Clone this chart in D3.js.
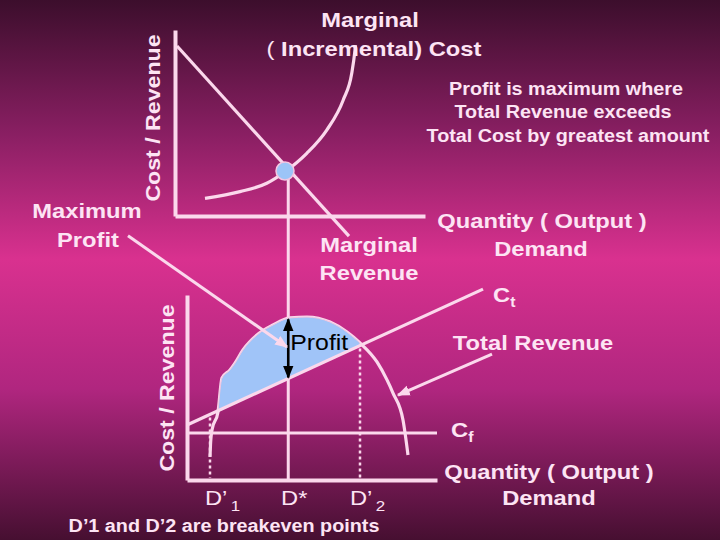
<!DOCTYPE html>
<html><head><meta charset="utf-8">
<script src="https://cdn.jsdelivr.net/npm/d3@7"></script>
<style>html,body{margin:0;padding:0;background:#000;}svg{display:block;}</style>
</head><body>
<script>
// ---- data (abstract units) ----
// Top panel: marginal cost & marginal revenue
const mcQ = [12, 26, 36.7, 44, 52.7, 60.7, 67.3, 70.7, 72, 72.2];
const mcV = [9.5, 13.1, 17.6, 23.8, 33.7, 46.2, 62.4, 76.7, 89.2, 91.9];
const mrQ = [0.8, 69.6];
const mrV = [91.4, -10.8];
const optimumQ = 44;
const optimumV = 24.2;
// Bottom panel: total revenue, total cost, fixed cost
const trQ = [9.2, 9.4, 10, 12.4, 14, 17.2, 19.2, 22.4, 28, 34.4, 41.2, 48, 57.2, 64, 69.2, 76, 80, 82.4, 86.4, 88.4];
const trV = [12.4, 18.9, 27, 36.8, 55.1, 59.5, 63.2, 70.3, 78.4, 83.8, 87.6, 88.1, 85.4, 80, 74.1, 63.8, 54.1, 47, 32.4, 13.5];
const ctQ = [0, 118.4];
const ctV = [29.7, 103.2];
const cfQ = [0, 100];
const cfV = [25.4, 25.4];
const breakevenQ = [9.2, 69.2];
const breakevenLabels = ["1", "2"];
const dStarQ = 40.5;
const profitTopV = 87.4;

const W = 720, H = 540;
const svg = d3.select("body").append("svg").attr("width", W).attr("height", H);

// background gradient
const defs = svg.append("defs");
const grad = defs.append("linearGradient").attr("id", "bg").attr("x1", 0).attr("y1", 0).attr("x2", 0).attr("y2", 1);
[[0, "#3c0e2c"], [0.25, "#8a1f63"], [0.48, "#d9318f"], [0.72, "#b0267f"], [1, "#460f31"]].forEach(s =>
  grad.append("stop").attr("offset", s[0]).attr("stop-color", s[1]));
svg.append("rect").attr("width", W).attr("height", H).attr("fill", "url(#bg)");

const LINE = "#fbd8ec";
const TEXT = "#fde4f4";

function marker(id, color, size) {
  defs.append("marker").attr("id", id).attr("viewBox", "0 0 10 10").attr("refX", 9).attr("refY", 5)
    .attr("markerWidth", size).attr("markerHeight", size).attr("orient", "auto-start-reverse")
    .attr("markerUnits", "userSpaceOnUse")
    .append("path").attr("d", "M0,1 L10,5 L0,9 Z").attr("fill", color);
}
marker("pinkArrow", LINE, 13);
marker("blackArrow", "#000", 13);

// scales
const xT = d3.scaleLinear().domain([0, 100]).range([175, 425]);
const yT = d3.scaleLinear().domain([0, 100]).range([216, 30]);
const xB = d3.scaleLinear().domain([0, 100]).range([187, 437]);
const yB = d3.scaleLinear().domain([0, 100]).range([480, 295]);

function drawAxes(x, y) {
  const gx = svg.append("g").attr("transform", `translate(0,${y(0)})`)
    .call(d3.axisBottom(x).ticks(0).tickSize(0).tickSizeOuter(0));
  const gy = svg.append("g").attr("transform", `translate(${x(0)},0)`)
    .call(d3.axisLeft(y).ticks(0).tickSize(0).tickSizeOuter(0));
  [gx, gy].forEach(g => { g.select(".domain").attr("stroke", LINE).attr("stroke-width", 4); g.selectAll("text").remove(); });
}
drawAxes(xT, yT);
drawAxes(xB, yB);

const ctAt = q => ctV[0] + (ctV[1] - ctV[0]) * (q - ctQ[0]) / (ctQ[1] - ctQ[0]);

// ---- top panel curves ----
svg.append("path").datum(d3.zip(mcQ, mcV))
  .attr("d", d3.line().x(d => xT(d[0])).y(d => yT(d[1])).curve(d3.curveMonotoneX))
  .attr("fill", "none").attr("stroke", LINE).attr("stroke-width", 3.2);
svg.append("path").datum(d3.zip(mrQ, mrV)).attr("d", d3.line().x(d => xT(d[0])).y(d => yT(d[1])))
  .attr("fill", "none").attr("stroke", LINE).attr("stroke-width", 3.2);

// connecting vertical line at D*
svg.append("line").attr("x1", xB(dStarQ)).attr("x2", xB(dStarQ))
  .attr("y1", yT(optimumV)).attr("y2", yB(0)).attr("stroke", LINE).attr("stroke-width", 3);

svg.append("circle").attr("cx", xT(optimumQ)).attr("cy", yT(optimumV)).attr("r", 9)
  .attr("fill", "#9cc4f7").attr("stroke", "#f4c6e2").attr("stroke-width", 1.5);

// ---- bottom panel ----
const trPts = d3.zip(trQ, trV);
const profitPts = trPts.filter(d => d[0] >= breakevenQ[0] + 3 && d[0] <= breakevenQ[1]);
const profitArea = d3.area().x(d => xB(d[0])).y0(d => yB(ctAt(d[0]))).y1(d => yB(d[1])).curve(d3.curveMonotoneX);

// TR curve
svg.append("path").datum(trPts)
  .attr("d", d3.line().x(d => xB(d[0])).y(d => yB(d[1])).curve(d3.curveMonotoneX))
  .attr("fill", "none").attr("stroke", LINE).attr("stroke-width", 3.2);
// profit area between TR and Ct
svg.append("path").datum(profitPts).attr("d", profitArea)
  .attr("fill", "#a0c4f8").attr("stroke", "#f3c6df").attr("stroke-width", 1);

// Ct and Cf
svg.append("path").datum(d3.zip(ctQ, ctV)).attr("d", d3.line().x(d => xB(d[0])).y(d => yB(d[1])))
  .attr("fill", "none").attr("stroke", LINE).attr("stroke-width", 3.2);
svg.append("path").datum(d3.zip(cfQ, cfV)).attr("d", d3.line().x(d => xB(d[0])).y(d => yB(d[1])))
  .attr("fill", "none").attr("stroke", LINE).attr("stroke-width", 3.2);

// breakeven dotted lines
breakevenQ.forEach(q => {
  svg.append("line").attr("x1", xB(q)).attr("x2", xB(q)).attr("y1", yB(ctAt(q)) + 3).attr("y2", yB(0) - 2)
    .attr("stroke", LINE).attr("stroke-width", 2.5).attr("stroke-dasharray", "3,3");
});

// profit double arrow
svg.append("line").attr("x1", xB(dStarQ)).attr("x2", xB(dStarQ))
  .attr("y1", yB(ctAt(dStarQ)) - 1).attr("y2", yB(profitTopV) + 1)
  .attr("stroke", "#000").attr("stroke-width", 2.6)
  .attr("marker-start", "url(#blackArrow)").attr("marker-end", "url(#blackArrow)");

// annotation arrows (bottom-panel units)
const annotArrows = [
  { from: [-23.6, 132], to: [40, 71.9] },   // Maximum Profit
  { from: [122, 68.1], to: [84.4, 45.9] }   // Total Revenue
];
annotArrows.forEach(a => {
  svg.append("line").attr("x1", xB(a.from[0])).attr("y1", yB(a.from[1]))
    .attr("x2", xB(a.to[0])).attr("y2", yB(a.to[1]))
    .attr("stroke", LINE).attr("stroke-width", 3).attr("marker-end", "url(#pinkArrow)");
});

// ---- text ----
const FONT = "'Liberation Sans', Arial, Helvetica, sans-serif";
const SX = 1.13;
function label(x, y, str, size, opts = {}) {
  const t = svg.append("text")
    .attr("transform", `translate(${x},${y}) rotate(${opts.rot || 0}) scale(${SX},1)`)
    .attr("text-anchor", opts.anchor || "middle")
    .attr("font-family", FONT).attr("font-size", size)
    .attr("font-weight", opts.weight || "bold")
    .attr("fill", opts.color || TEXT);
  if (str !== null) t.text(str);
  return t;
}

label(370, 27, "Marginal", 21);
const inc = label(374, 56, null, 21);
inc.append("tspan").attr("font-weight", "normal").text("( ");
inc.append("tspan").text("Incremental) Cost");

label(566, 95, "Profit is maximum where", 17.5);
label(563, 118, "Total Revenue exceeds", 17.5);
label(568, 142, "Total Cost by greatest amount", 17.5);

label(160, 118, "Cost / Revenue", 20.5, { rot: -90 });
label(174, 388, "Cost / Revenue", 20.5, { rot: -90 });

label(87, 218, "Maximum", 21);
label(88, 247, "Profit", 21);

label(542, 228, "Quantity ( Output )", 21);
label(541, 256, "Demand", 21);
label(369, 252, "Marginal", 21);
label(369, 280, "Revenue", 21);

const ct = label(493, 302, null, 21, { anchor: "start" });
ct.append("tspan").text("C");
ct.append("tspan").attr("font-size", 14).attr("dy", 5).text("t");

label(533, 350, "Total Revenue", 21);

const cf = label(451, 437, null, 21, { anchor: "start" });
cf.append("tspan").text("C");
cf.append("tspan").attr("font-size", 14).attr("dy", 5).text("f");

label(549, 479, "Quantity ( Output )", 21);
label(549, 505, "Demand", 21);

label(xB(dStarQ) + 2, 350, "Profit", 22, { anchor: "start", weight: "normal", color: "#000" });

// D labels
const dx = [205, 350];
breakevenLabels.forEach((s, i) => {
  const t = label(dx[i], 505, null, 21, { anchor: "start", weight: "normal" });
  t.append("tspan").text("D’");
  t.append("tspan").attr("font-size", 15).attr("dy", 6).attr("dx", 3).text(s);
});
label(xB(dStarQ) + 6, 505, "D*", 21, { weight: "normal" });

label(224, 532, "D’1 and D’2 are breakeven points", 17.5);
</script>
</body></html>
